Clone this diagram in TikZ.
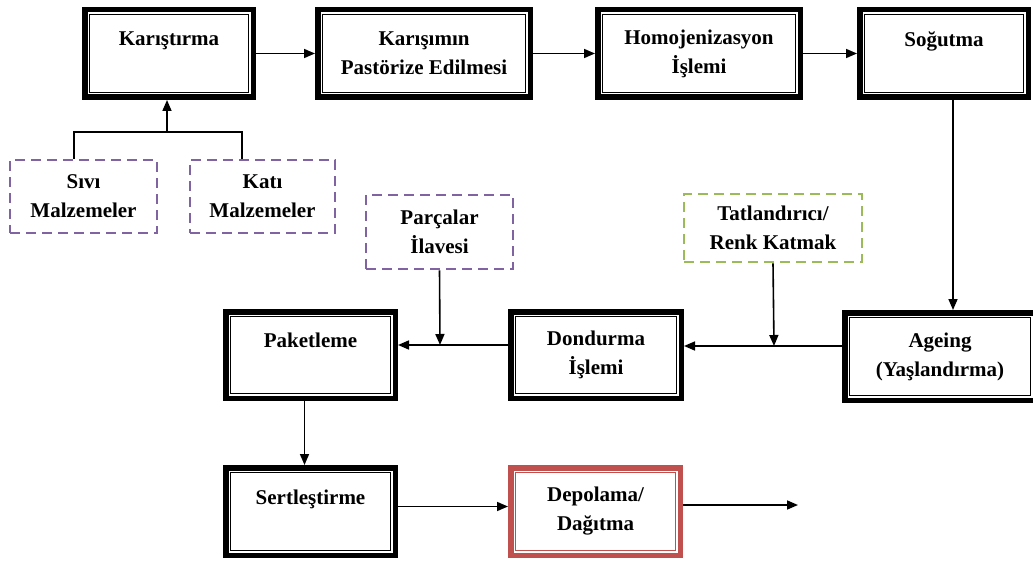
\documentclass[tikz,border=0pt]{standalone}
\usepackage{fontspec}
\setmainfont{Liberation Serif}
\usetikzlibrary{arrows.meta}

\definecolor{addpurple}{HTML}{8064A2}
\definecolor{addgreen}{HTML}{9BBB59}
\definecolor{endred}{HTML}{C0504D}

\begin{document}
\begin{tikzpicture}[
  x=1pt,
  y=-1pt,
  >={Triangle[length=11pt,width=9pt]},
  every node/.style={font=\bfseries\fontsize{21}{29}\selectfont},
  stage/.style={draw, line width=1.2pt, align=center, outer sep=7.5pt, inner sep=0pt},
  frame/.style={line width=5.5pt},
  extra/.style={draw=addpurple, line width=2.6pt, dash pattern=on 10pt off 6pt, align=center, inner sep=0pt},
  flow/.style={->, line width=1.6pt},
  link/.style={line width=1.6pt},
]
  \clip (0,0) rectangle (1033,561);

  % main line of the process
  \node[stage, minimum width=159pt, minimum height=78pt] (mix)   at (169,53.5)  {Karıştırma\\\mbox{}};
  \node[stage, minimum width=203pt, minimum height=78pt] (past)  at (424,53.5)  {Karışımın\\Pastörize Edilmesi};
  \node[stage, minimum width=193pt, minimum height=78pt] (homo)  at (699,53.5)  {Homojenizasyon\\İşlemi};
  \node[stage, minimum width=159pt, minimum height=78pt] (cool)  at (944,53.5)  {Soğutma\\\mbox{}};
  \node[stage, minimum width=181pt, minimum height=78pt] (age)   at (940,356.5) {Ageing\\(Yaşlandırma)};
  \node[stage, minimum width=161pt, minimum height=77pt] (ice)   at (596,355)   {Dondurma\\İşlemi};
  \node[stage, minimum width=160pt, minimum height=77pt] (pack)  at (310.5,355) {Paketleme\\\mbox{}};
  \node[stage, minimum width=160pt, minimum height=78pt] (hard)  at (310.5,511.5) {Sertleştirme\\\mbox{}};
  \node[stage, draw=endred, minimum width=160pt, minimum height=78pt] (store) at (595.5,511.5) {Depolama/\\Dağıtma};

  % thick outer frames
  \foreach \n in {mix,past,homo,cool,age,ice,pack,hard}
    \draw[frame] ([xshift=2.75pt,yshift=-2.75pt]\n.north west) rectangle ([xshift=-2.75pt,yshift=2.75pt]\n.south east);
  \draw[frame, endred] ([xshift=2.75pt,yshift=-2.75pt]store.north west) rectangle ([xshift=-2.75pt,yshift=2.75pt]store.south east);

  % added ingredients
  \node[extra, minimum width=147pt, minimum height=73pt] (liquid) at (83.5,196.5) {Sıvı\\Malzemeler};
  \node[extra, minimum width=145pt, minimum height=73pt] (solid)  at (262.5,196.5) {Katı\\Malzemeler};
  \node[extra, minimum width=147pt, minimum height=74pt] (pieces) at (439.5,232) {Parçalar\\İlavesi};
  \node[extra, draw=addgreen, minimum width=178pt, minimum height=68pt] (sweet) at (773,228) {Tatlandırıcı/\\Renk Katmak};

  \coordinate (fork) at (167,132);
  \coordinate (inA)  at (774,346);
  \coordinate (inB)  at (440,345);
  \coordinate (out)  at (798,505);

  % connectors
  \draw[flow] (mix) -- (past);
  \draw[flow] (past) -- (homo);
  \draw[flow] (homo) -- (cool);
  \draw[flow] ([xshift=9pt]cool.south) -- ([xshift=9pt]cool.south |- age.north);
  \draw[flow] (age.west |- inA) -- (ice.east |- inA);
  \draw[flow] (sweet.south) -- (inA);
  \draw[flow] (ice.west |- inB) -- (pack.east |- inB);
  \draw[flow] (pieces.south) -- (inB);
  \draw[flow] ([xshift=-6pt]pack.south) -- ([xshift=-6pt]hard.north);
  \draw[flow] ([yshift=5pt]hard.east) -- ([yshift=5pt]hard.east -| store.west);
  \draw[flow] (store.east |- out) -- (out);
  \draw[link] ([xshift=-9.5pt]liquid.north) |- (fork) -| ([xshift=-20.5pt]solid.north);
  \draw[flow] (fork) -- (fork |- mix.south);
\end{tikzpicture}
\end{document}
